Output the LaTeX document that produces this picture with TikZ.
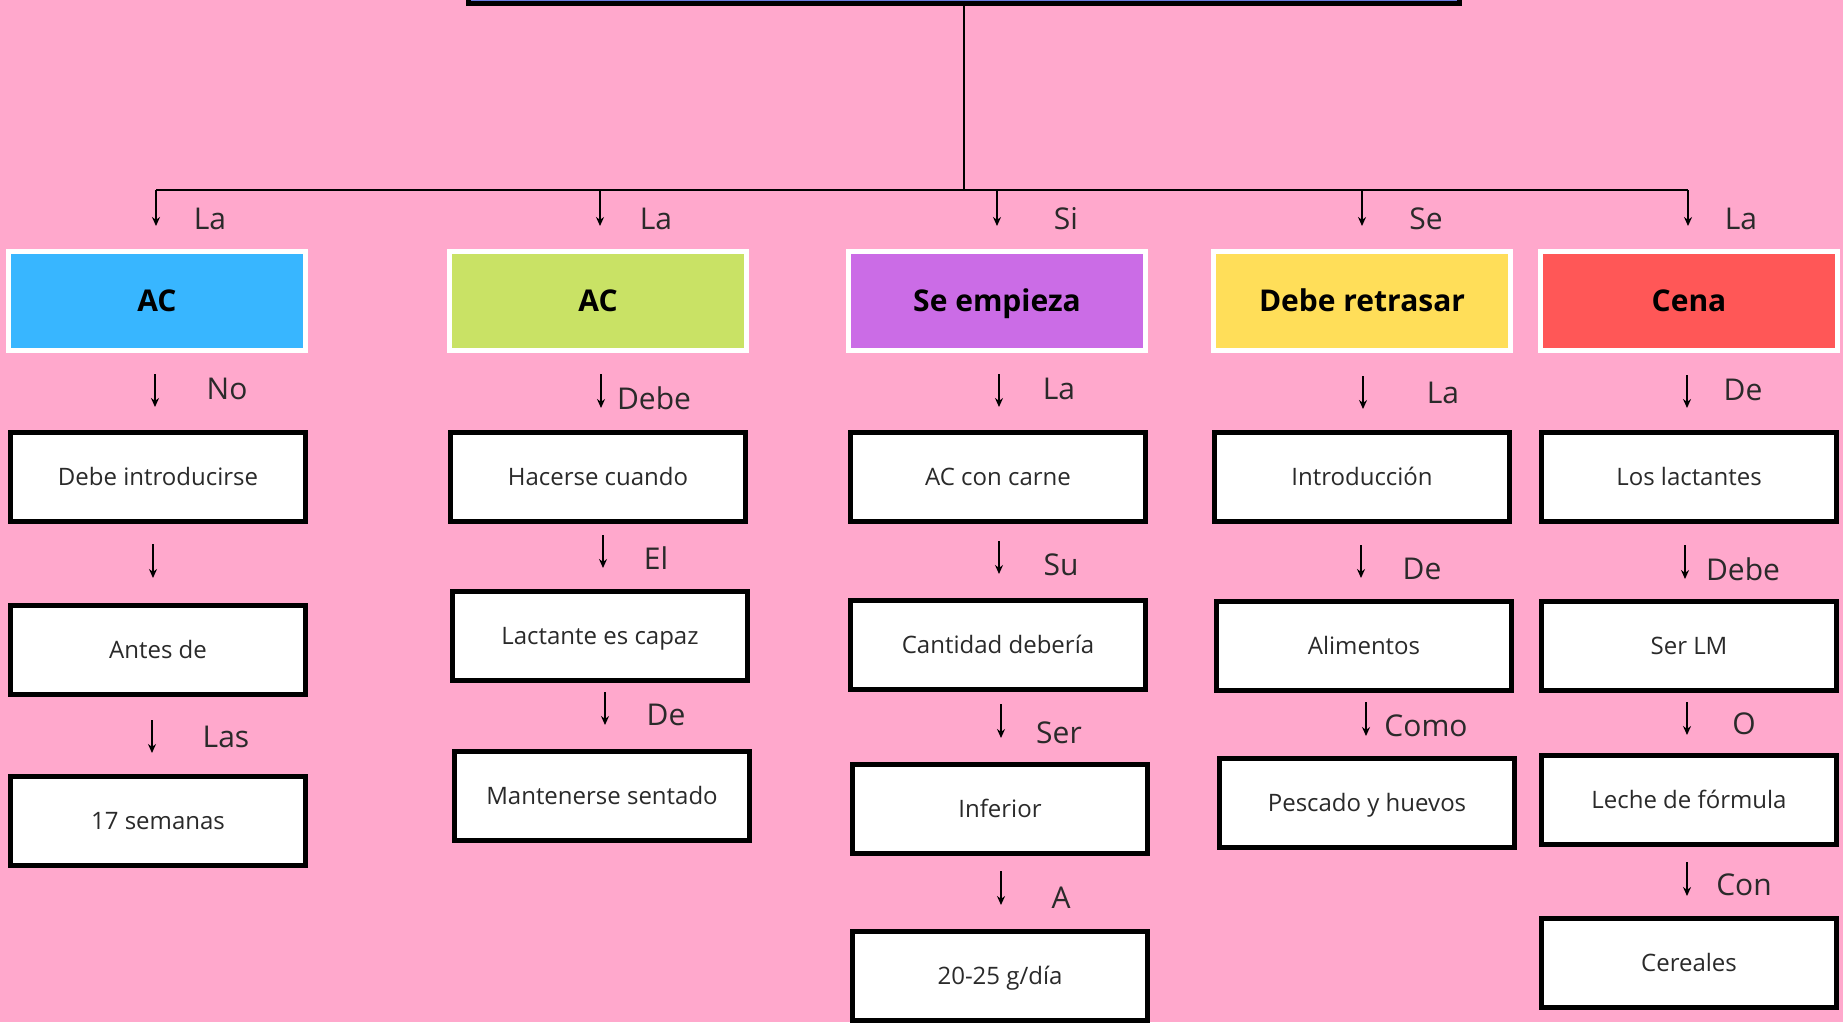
\documentclass[tikz,border=0pt]{standalone}
\usepackage{fontspec}
\setmainfont{Open Sans}
\usetikzlibrary{arrows.meta}
\definecolor{bgpink}{HTML}{FFA8CC}
\definecolor{topblue}{HTML}{6A7DE0}
\definecolor{hblue}{HTML}{38B6FF}
\definecolor{hgreen}{HTML}{C9E265}
\definecolor{hpurple}{HTML}{CB6CE6}
\definecolor{hyellow}{HTML}{FFDE59}
\definecolor{hred}{HTML}{FF5757}
\definecolor{txt}{HTML}{2A2A2A}
\tikzset{
  header/.style={draw=white, line width=5pt, minimum width=297pt, minimum height=99pt, inner sep=0pt,
    text height=21.4pt, text depth=0pt,
    font=\fontsize{30}{36}\selectfont\bfseries},
  item/.style={draw=black, fill=white, line width=5pt, minimum width=295pt, minimum height=89pt, inner sep=0pt,
    text height=17.1pt, text depth=0pt,
    font=\fontsize{24}{29}\selectfont, text=txt},
  lab/.style={font=\fontsize{30}{36}\selectfont, text=txt, inner sep=0pt},
  arr/.style={line width=1.8pt, -{Stealth[length=9pt,width=8pt]}},
  link/.style={line width=2pt}
}
\begin{document}
\begin{tikzpicture}[x=1pt,y=-1pt]
\fill[bgpink] (0,0) rectangle (1843,1022);
\useasboundingbox (0,0) rectangle (1843,1022);

% top box (cut off)
\node[draw=black, fill=topblue, line width=5pt, minimum width=991pt, minimum height=80pt, inner sep=0pt, anchor=south] (top) at (964,6) {};

% hub line
\coordinate (hubL) at (156,190);
\coordinate (hubR) at (1688,190);
\coordinate (hubM) at (964,190);
\draw[link] (top.south) -- (hubM);
\draw[link] (hubL) -- (hubR);

% headers
\node[header, fill=hblue] (h1) at (157,301) {AC};
\node[header, fill=hgreen] (h2) at (598,301) {AC};
\node[header, fill=hpurple] (h3) at (997,301) {Se empieza};
\node[header, fill=hyellow] (h4) at (1362,301) {Debe retrasar};
\node[header, fill=hred] (h5) at (1689,301) {Cena};

% items
\node[item] (c1a) at (158,477) {Debe introducirse};
\node[item] (c1b) at (158,650) {Antes de};
\node[item] (c1c) at (158,821) {17 semanas};

\node[item] (c2a) at (598,477) {Hacerse cuando};
\node[item] (c2b) at (600,636) {Lactante es capaz};
\node[item] (c2c) at (602,796) {Mantenerse sentado};

\node[item] (c3a) at (998,477) {AC con carne};
\node[item] (c3b) at (998,645) {Cantidad debería};
\node[item] (c3c) at (1000,809) {Inferior};
\node[item] (c3d) at (1000,976) {20-25 g/día};

\node[item] (c4a) at (1362,477) {Introducción};
\node[item] (c4b) at (1364,646) {Alimentos};
\node[item] (c4c) at (1367,803) {Pescado y huevos};

\node[item] (c5a) at (1689,477) {Los lactantes};
\node[item] (c5b) at (1689,646) {Ser LM};
\node[item] (c5c) at (1689,800) {Leche de fórmula};
\node[item] (c5d) at (1689,963) {Cereales};

% top arrows from hub line
\foreach \n/\x/\lx/\t in {1/156/210/La, 2/600/656/La, 3/997/1066/Si, 4/1362/1426/Se, 5/1688/1741/La}{
  \coordinate (t\n s) at (\x,190);
  \coordinate (t\n e) at (\x,226);
  \draw[arr] (t\n s) -- (t\n e);
  \node[lab] (tl\n) at (\lx,219) {\t};
}

% column arrows: name/x/y1/y2/label/lx/ly
\foreach \n/\x/\ya/\yb/\t/\lx/\ly in {
  c1x/155/374/407/No/227/389,
  c1y/153/544/578/{}/0/0,
  c1z/152/720/753/Las/226/737,
  c2x/601/374/408/Debe/654/398,
  c2y/603/535/568/El/656/558,
  c2z/605/692/725/De/666/715,
  c3x/999/374/407/La/1059/389,
  c3y/999/541/574/Su/1061/565,
  c3z/1001/704/738/Ser/1059/733,
  c3w/1001/871/905/A/1061/898,
  c4x/1363/376/409/La/1443/393,
  c4y/1361/545/578/De/1422/569,
  c4z/1366/702/736/Como/1426/726,
  c5x/1687/375/408/De/1743/390,
  c5y/1685/545/579/Debe/1743/569,
  c5z/1687/702/735/O/1744/724,
  c5w/1687/862/896/Con/1744/885}{
  \coordinate (\n s) at (\x,\ya);
  \coordinate (\n e) at (\x,\yb);
  \draw[arr] (\n s) -- (\n e);
  \node[lab] (\n l) at (\lx,\ly) {\t};
}
\end{tikzpicture}
\end{document}
